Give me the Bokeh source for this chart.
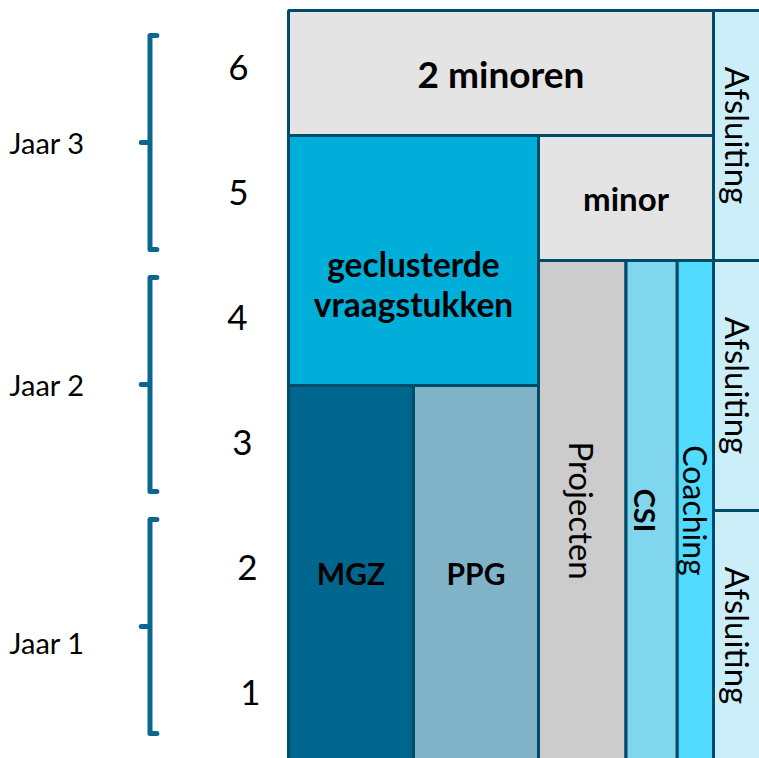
from bokeh.plotting import figure
from bokeh.models import ColumnDataSource, Range1d
from bokeh.core.properties import value
from bokeh.embed import file_html
from bokeh.resources import INLINE

# ---- data: curriculum blocks (x = course columns, y = semesters) ----
block_names = ["MGZ", "PPG", "geclusterde\nvraagstukken", "Projecten", "CSI", "Coaching",
               "minor", "2 minoren", "Afsluiting", "Afsluiting", "Afsluiting"]
block_col_start = [0, 1, 0, 2, 2.7, 3.11, 2, 0, 3.4, 3.4, 3.4]
block_col_end = [1, 2, 2, 2.7, 3.11, 3.4, 3.4, 3.4, 3.79, 3.79, 3.79]
block_sem_start = [0, 0, 3, 0, 0, 0, 4, 5, 4, 2, 0]
block_sem_end = [3, 3, 5, 4, 4, 4, 5, 6, 6, 4, 2]
block_colors = ["#00668E", "#80B3C8", "#00AEDA", "#CCCCCC", "#80D7ED", "#50DBFF",
                "#E4E4E4", "#E4E4E4", "#CCEEF8", "#CCEEF8", "#CCEEF8"]
block_bold = [True, True, True, False, True, False, True, True, False, False, False]
block_vertical = [False, False, False, True, True, True, False, False, True, True, True]

semesters = ["1", "2", "3", "4", "5", "6"]
years = ["Jaar 1", "Jaar 2", "Jaar 3"]

# ---- layout / style constants ----
FONT = "Lato"
BORDER = "#004B6A"
BRACKET = "#0A6890"
label_sizes = ["30px", "30px", "33.5px", "33px", "29px", "32px", "33px", "37px", "33px", "33px", "33px"]
label_dy = [0, 0, -0.19, 0, 0, 0, 0, 0, 0, 0, 0]
label_dx = [0, 0, 0, 0, -0.05, 0, 0, 0, 0, 0, 0]
sem_label_x = [-0.304, -0.328, -0.368, -0.408, -0.4, -0.4]
sem_label_dy = 0.045
year_centers = [1.072, 3.008, 4.944]
year_label_dy = [-0.125, 0, 0]
bracket_half = 0.856
bracket_x = -1.108
serif = 0.055
tick = 0.07
year_label_x = -1.932

p = figure(width=759, height=758, output_backend="svg", toolbar_location=None,
           x_range=Range1d(-2.304, 3.768), y_range=Range1d(0.016, 6.08),
           min_border=0, outline_line_color=None, background_fill_color="white",
           border_fill_color="white")
p.axis.visible = False
p.grid.visible = False

src = ColumnDataSource(dict(left=block_col_start, right=block_col_end,
                            bottom=block_sem_start, top=block_sem_end, color=block_colors))
p.quad(left="left", right="right", bottom="bottom", top="top", source=src,
       fill_color="color", line_color=BORDER, line_width=3)

# block labels
for i, name in enumerate(block_names):
    cx = (block_col_start[i] + block_col_end[i]) / 2 + label_dx[i]
    cy = (block_sem_start[i] + block_sem_end[i]) / 2 + label_dy[i]
    p.text(x=[cx], y=[cy], text=[name], text_align="center", text_baseline="middle",
           angle=-1.5707963 if block_vertical[i] else 0,
           text_font=value(FONT), text_font_size=label_sizes[i],
           text_font_style="bold" if block_bold[i] else "normal",
           text_color="#000000", text_line_height=0.99)

# semester numbers
sem_y = [int(s) - 0.5 + sem_label_dy for s in semesters]
p.text(x=sem_label_x, y=sem_y, text=semesters, text_align="center", text_baseline="middle",
       text_font=value(FONT), text_font_size="35px", text_color="#000000")

# year brackets
xs, ys = [], []
for c in year_centers:
    xs.append([bracket_x + serif, bracket_x, bracket_x, bracket_x - tick, bracket_x,
               bracket_x, bracket_x + serif])
    ys.append([c + bracket_half, c + bracket_half, c, c, c, c - bracket_half, c - bracket_half])
p.multi_line(xs=xs, ys=ys, line_color=BRACKET, line_width=5, line_join="round", line_cap="round")

year_y = [c + d for c, d in zip(year_centers, year_label_dy)]
p.text(x=[year_label_x] * len(years), y=year_y, text=years, text_align="center",
       text_baseline="middle", text_font=value(FONT), text_font_size="29px", text_color="#000000")

open("out.html", "w").write(file_html(p, INLINE))
